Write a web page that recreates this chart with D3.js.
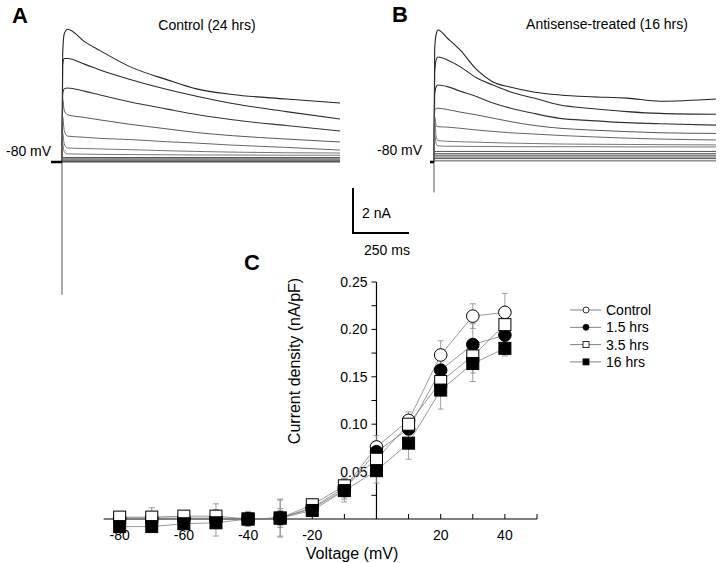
<!DOCTYPE html>
<html>
<head>
<meta charset="utf-8">
<script src="https://cdn.jsdelivr.net/npm/d3@7"></script>
<style>
  body { margin: 0; background: #fff; }
  text { font-family: "Liberation Sans", Arial, sans-serif; fill: #000; }
</style>
</head>
<body>
<script>
// ---- panel A / B traces (time in ms, current in nA) ----
var tA = [0, 3, 10, 25, 100, 170, 300, 470, 600, 760, 1000, 1240];
var traceA1 = [0, 4.8, 5.7, 5.9, 5.35, 4.95, 4.25, 3.65, 3.25, 3.0, 2.8, 2.62];
var traceA2 = [0, 4.3, 4.6, 4.6, 4.35, 4.09, 3.68, 3.22, 2.92, 2.6, 2.24, 1.91];
var traceA3 = [0, 3.0, 3.25, 3.29, 3.15, 2.98, 2.68, 2.35, 2.11, 1.88, 1.62, 1.38];
var traceA4 = [0, 2.76, 2.3, 2.1, 1.98, 1.87, 1.68, 1.47, 1.31, 1.17, 1.02, 0.89];
var traceA5 = [0, 2.0, 1.4, 1.15, 1.1, 1.05, 1.0, 0.9, 0.84, 0.75, 0.65, 0.53];
var traceA6 = [0, 1.3, 0.8, 0.62, 0.6, 0.58, 0.55, 0.5, 0.47, 0.44, 0.41, 0.4];
var traceA7 = [0, 0.8, 0.45, 0.36, 0.35, 0.34, 0.33, 0.32, 0.31, 0.31, 0.3, 0.3];
var flatA = [0.2, 0.14, 0.09, 0.05, 0.02, 0.0];

var tB = [0, 3, 10, 18, 60, 116, 192, 263, 339, 450, 562, 700, 861, 1008, 1258];
var traceB1 = [0, 5.0, 5.7, 5.87, 5.5, 4.98, 4.09, 3.56, 3.33, 3.1, 2.98, 2.9, 2.84, 2.7, 2.8];
var traceB2 = [0, 4.0, 4.55, 4.67, 4.53, 4.24, 3.73, 3.42, 3.12, 2.83, 2.53, 2.38, 2.24, 2.16, 2.12];
var traceB3 = [0, 3.0, 3.35, 3.42, 3.35, 3.15, 2.9, 2.62, 2.4, 2.15, 1.94, 1.84, 1.75, 1.7, 1.64];
var traceB4 = [0, 2.3, 2.38, 2.39, 2.33, 2.22, 2.09, 1.95, 1.8, 1.62, 1.5, 1.42, 1.35, 1.3, 1.27];
var traceB5 = [0, 2.0, 1.6, 1.57, 1.55, 1.5, 1.42, 1.36, 1.3, 1.24, 1.18, 1.12, 1.06, 1.02, 0.98];
var traceB6 = [0, 1.8, 1.1, 0.95, 0.92, 0.9, 0.88, 0.86, 0.84, 0.82, 0.8, 0.79, 0.78, 0.77, 0.76];
var traceB7 = [0, 1.2, 0.8, 0.72, 0.7, 0.7, 0.69, 0.69, 0.68, 0.68, 0.68, 0.68, 0.67, 0.67, 0.67];
var flatB = [0.47, 0.37, 0.3, 0.22, 0.15, 0.05];

var artifactA = -5.9;
var artifactB = -1.35;

// ---- panel C: current density vs voltage ----
var volts = [-80, -70, -60, -50, -40, -30, -20, -10, 0, 10, 20, 30, 40];
var ctrl   = [0.001, 0.001, 0.001, 0.001, 0.000, 0.001, 0.012, 0.033, 0.076, 0.104, 0.173, 0.214, 0.218];
var ctrlErr = [0.004, 0.004, 0.004, 0.006, 0.005, 0.008, 0.006, 0.010, 0.012, 0.009, 0.015, 0.013, 0.020];
var h15    = [0.000, 0.000, 0.000, 0.000, 0.000, 0.001, 0.011, 0.031, 0.071, 0.095, 0.157, 0.184, 0.194];
var h15Err = [0.003, 0.004, 0.004, 0.008, 0.006, 0.019, 0.006, 0.010, 0.010, 0.010, 0.014, 0.022, 0.012];
var h35    = [0.002, 0.002, 0.003, 0.003, 0.000, 0.001, 0.015, 0.035, 0.063, 0.100, 0.145, 0.172, 0.205];
var h35Err = [0.003, 0.010, 0.003, 0.013, 0.008, 0.010, 0.005, 0.008, 0.012, 0.008, 0.012, 0.018, 0.015];
var h16    = [-0.008, -0.008, -0.005, -0.004, 0.000, 0.001, 0.009, 0.030, 0.051, 0.080, 0.136, 0.164, 0.180];
var h16Err = [0.004, 0.004, 0.005, 0.014, 0.004, 0.020, 0.005, 0.012, 0.013, 0.017, 0.020, 0.019, 0.008];

var xTicks = [-80, -70, -60, -50, -40, -30, -20, -10, 0, 10, 20, 30, 40, 50];
var xLabels = [-80, -60, -40, -20, 20, 40];
var yTicks = [0.025, 0.05, 0.075, 0.1, 0.125, 0.15, 0.175, 0.2, 0.225, 0.25];
var yLabels = [0.05, 0.1, 0.15, 0.2, 0.25];

var w = 720, h = 563;
var svg = d3.select("body").append("svg").attr("width", w).attr("height", h);
svg.append("rect").attr("width", w).attr("height", h).attr("fill", "#fff");

// trace scales (same gain in both panels)
var yTr = d3.scaleLinear().domain([0, 6]).range([162, 27]);
var xTrA = d3.scaleLinear().domain([0, 1240]).range([62, 340]);
var xTrB = d3.scaleLinear().domain([0, 1258]).range([434, 716]);

function drawTraces(g, xs, ts, traces, flats, artifact, holdLen) {
    var line = d3.line()
        .x(function(d, i) { return xs(ts[i]); })
        .y(function(d) { return yTr(d); })
        .curve(d3.curveMonotoneX);

    // capacitive artifact
    g.append("line")
        .attr("x1", xs(0)).attr("x2", xs(0))
        .attr("y1", yTr(artifact)).attr("y2", yTr(0))
        .attr("stroke", "#555").attr("stroke-width", 1);

    flats.forEach(function(v) {
        g.append("line")
            .attr("x1", xs(0)).attr("x2", xs(ts[ts.length - 1]))
            .attr("y1", yTr(v)).attr("y2", yTr(v))
            .attr("stroke", "#555").attr("stroke-width", 1);
    });

    var colors = ["#222", "#2a2a2a", "#333", "#444", "#555", "#666", "#666"];
    traces.forEach(function(tr, i) {
        g.append("path")
            .attr("d", line(tr))
            .attr("fill", "none")
            .attr("stroke", colors[i])
            .attr("stroke-width", i < 3 ? 1.1 : 0.9);
    });

    // holding level mark
    g.append("line")
        .attr("x1", xs(0) - holdLen).attr("x2", xs(0))
        .attr("y1", yTr(0)).attr("y2", yTr(0))
        .attr("stroke", "#000").attr("stroke-width", 2.5);
}

var gA = svg.append("g");
drawTraces(gA, xTrA, tA, [traceA1, traceA2, traceA3, traceA4, traceA5, traceA6, traceA7], flatA, artifactA, 11);
var gB = svg.append("g");
drawTraces(gB, xTrB, tB, [traceB1, traceB2, traceB3, traceB4, traceB5, traceB6, traceB7], flatB, artifactB, 4);

// panel labels & captions
svg.append("text").attr("x", 12).attr("y", 23).text("A")
    .attr("font-size", 22).attr("font-weight", "bold");
svg.append("text").attr("x", 392).attr("y", 22).text("B")
    .attr("font-size", 22).attr("font-weight", "bold");
svg.append("text").attr("x", 244).attr("y", 270).text("C")
    .attr("font-size", 22).attr("font-weight", "bold");

svg.append("text").attr("x", 207).attr("y", 30).attr("text-anchor", "middle")
    .attr("font-size", 14).text("Control (24 hrs)");
svg.append("text").attr("x", 607).attr("y", 29).attr("text-anchor", "middle")
    .attr("font-size", 14).text("Antisense-treated (16 hrs)");
svg.append("text").attr("x", 6).attr("y", 156).attr("font-size", 14).text("-80 mV");
svg.append("text").attr("x", 377).attr("y", 155).attr("font-size", 14).text("-80 mV");

// scale bar: 2 nA / 250 ms
var sbX = 353, sbY = 233;
var sbH = yTr(0) - yTr(2);
var sbW = xTrA(250) - xTrA(0);
svg.append("path")
    .attr("d", "M" + sbX + "," + (sbY - sbH) + "V" + sbY + "H" + (sbX + sbW))
    .attr("fill", "none").attr("stroke", "#000").attr("stroke-width", 2);
svg.append("text").attr("x", sbX + 9).attr("y", sbY - 15).attr("font-size", 14).text("2 nA");
svg.append("text").attr("x", sbX + 34).attr("y", sbY + 22).attr("text-anchor", "middle")
    .attr("font-size", 14).text("250 ms");

// ---- panel C ----
var x = d3.scaleLinear().domain([-85, 50]).range([103.6, 537]);
var y = d3.scaleLinear().domain([0, 0.25]).range([519, 282]);
var gC = svg.append("g");

// x axis
gC.append("line").attr("x1", x(-85)).attr("x2", x(50)).attr("y1", y(0)).attr("y2", y(0))
    .attr("stroke", "#000").attr("stroke-width", 1.2);
gC.selectAll(".xt").data(xTicks).enter().append("line")
    .attr("x1", function(d) { return x(d); }).attr("x2", function(d) { return x(d); })
    .attr("y1", y(0)).attr("y2", y(0) - 5)
    .attr("stroke", "#000").attr("stroke-width", 1);
gC.selectAll(".xl").data(xLabels).enter().append("text")
    .attr("x", function(d) { return x(d); }).attr("y", y(0) + 21)
    .attr("text-anchor", "middle").attr("font-size", 14)
    .text(function(d) { return d; });

// y axis
gC.append("line").attr("x1", x(0)).attr("x2", x(0)).attr("y1", y(0)).attr("y2", y(0.25))
    .attr("stroke", "#000").attr("stroke-width", 1.2);
gC.selectAll(".yt").data(yTicks).enter().append("line")
    .attr("x1", x(0)).attr("x2", x(0) - 5)
    .attr("y1", function(d) { return y(d); }).attr("y2", function(d) { return y(d); })
    .attr("stroke", "#000").attr("stroke-width", 1);
gC.selectAll(".yl").data(yLabels).enter().append("text")
    .attr("x", x(0) - 9).attr("y", function(d) { return y(d) + 5; })
    .attr("text-anchor", "end").attr("font-size", 14)
    .text(function(d) { return d3.format(".2f")(d); });

gC.append("text").attr("x", 352).attr("y", 559).attr("text-anchor", "middle")
    .attr("font-size", 16).text("Voltage (mV)");
gC.append("text").attr("transform", "translate(300,361) rotate(-90)")
    .attr("text-anchor", "middle").attr("font-size", 16).text("Current density (nA/pF)");

var series = [
    { name: "Control", vals: ctrl, err: ctrlErr, shape: "circle", fill: "#fff" },
    { name: "1.5 hrs", vals: h15, err: h15Err, shape: "circle", fill: "#000" },
    { name: "3.5 hrs", vals: h35, err: h35Err, shape: "square", fill: "#fff" },
    { name: "16 hrs", vals: h16, err: h16Err, shape: "square", fill: "#000" }
];

var ivLine = d3.line()
    .x(function(d, i) { return x(volts[i]); })
    .y(function(d) { return y(d); });

series.forEach(function(s) {
    gC.append("path").attr("d", ivLine(s.vals))
        .attr("fill", "none").attr("stroke", "#808080").attr("stroke-width", 0.8);
});

series.forEach(function(s) {
    var g = gC.append("g");
    s.vals.forEach(function(v, i) {
        var cx = x(volts[i]);
        var top = y(v + s.err[i]), bot = y(v - s.err[i]);
        g.append("line").attr("x1", cx).attr("x2", cx).attr("y1", top).attr("y2", bot)
            .attr("stroke", "#888").attr("stroke-width", 0.8);
        [top, bot].forEach(function(yy) {
            g.append("line").attr("x1", cx - 3).attr("x2", cx + 3).attr("y1", yy).attr("y2", yy)
                .attr("stroke", "#888").attr("stroke-width", 0.8);
        });
    });
});

series.forEach(function(s) {
    var g = gC.append("g");
    s.vals.forEach(function(v, i) {
        var cx = x(volts[i]), cy = y(v);
        if (s.shape === "circle") {
            g.append("circle").attr("cx", cx).attr("cy", cy).attr("r", 6.3)
                .attr("fill", s.fill).attr("stroke", "#000").attr("stroke-width", 1);
        } else {
            g.append("rect").attr("x", cx - 6).attr("y", cy - 6).attr("width", 12).attr("height", 12)
                .attr("fill", s.fill).attr("stroke", "#000").attr("stroke-width", 1);
        }
    });
});

// legend
var legend = svg.append("g");
series.forEach(function(s, i) {
    var ly = 310 + i * 17.3;
    legend.append("line").attr("x1", 570).attr("x2", 601).attr("y1", ly).attr("y2", ly)
        .attr("stroke", "#808080").attr("stroke-width", 1);
    if (s.shape === "circle") {
        legend.append("circle").attr("cx", 586).attr("cy", ly).attr("r", 3)
            .attr("fill", s.fill).attr("stroke", "#000").attr("stroke-width", 0.8);
    } else {
        legend.append("rect").attr("x", 583).attr("y", ly - 3).attr("width", 6).attr("height", 6)
            .attr("fill", s.fill).attr("stroke", "#000").attr("stroke-width", 0.8);
    }
    legend.append("text").attr("x", 606).attr("y", ly + 5).attr("font-size", 14).text(s.name);
});
</script>
</body>
</html>
